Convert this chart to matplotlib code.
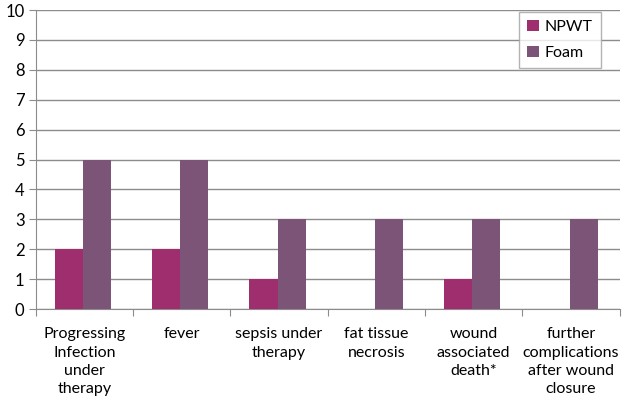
import numpy as np
import matplotlib.pyplot as plt

categories = ["Progressing\nInfection\nunder\ntherapy", "fever", "sepsis under\ntherapy",
              "fat tissue\nnecrosis", "wound\nassociated\ndeath*",
              "further\ncomplications\nafter wound\nclosure"]
npwt = [2, 2, 1, 0, 1, 0]
foam = [5, 5, 3, 3, 3, 3]

plt.rcParams['font.family'] = ['Lato', 'DejaVu Sans']

fig = plt.figure(figsize=(6.24, 4.04), dpi=100)
ax = fig.add_axes([0.0572, 0.235, 0.9358, 0.740])

x = np.arange(len(categories))
w = 0.29
grid_c = '#8c8c8c'
ax.bar(x - w / 2 - 0.015, npwt, w, color='#9e2e6e', label='NPWT', zorder=3)
ax.bar(x + w / 2 - 0.015, foam, w, color='#7b5478', label='Foam', zorder=3)

ax.set_xlim(-0.5, len(categories) - 0.5)
ax.set_ylim(0, 10)
ax.set_yticks(range(0, 11))
ax.yaxis.grid(True, color=grid_c, linewidth=1, zorder=0)
ax.tick_params(axis='y', length=5, color=grid_c, labelsize=12, pad=3)

# category boundary ticks
ax.set_xticks(np.arange(-0.5, len(categories), 1.0))
ax.set_xticklabels([])
ax.tick_params(axis='x', length=5, color=grid_c)
ax.set_xticks(x, minor=True)
ax.set_xticklabels(categories, minor=True, fontsize=11.5, linespacing=1.4, va='top')
ax.tick_params(axis='x', which='minor', length=0, pad=13)

for s in ['top', 'right']:
    ax.spines[s].set_visible(False)
for s in ['left', 'bottom']:
    ax.spines[s].set_color(grid_c)

leg = ax.legend(loc='upper right', bbox_to_anchor=(0.968, 0.993), frameon=True,
                fancybox=False, edgecolor='#a0a0a0', fontsize=11.5, borderaxespad=0,
                handlelength=0.7, handleheight=0.7, handletextpad=0.4,
                labelspacing=0.7, borderpad=0.5)
leg.get_frame().set_linewidth(1)

fig.savefig('out.png', dpi=100)
